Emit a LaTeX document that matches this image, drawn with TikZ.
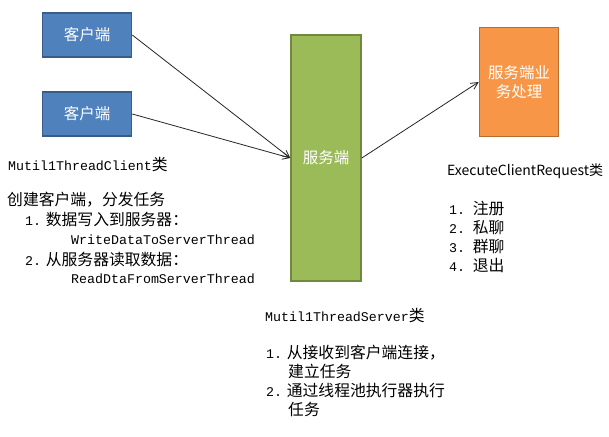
\documentclass[tikz,border=0pt]{standalone}
\usepackage{fontspec}
\setmainfont{Noto Sans CJK SC}
\newfontfamily\dengkuan{Liberation Mono}
\usepackage{xcolor}
\usetikzlibrary{arrows.meta}
\definecolor{klan}{HTML}{4F81BD}
\definecolor{klanbian}{HTML}{385D8A}
\definecolor{klv}{HTML}{9BBB59}
\definecolor{klvbian}{HTML}{71893F}
\definecolor{kcheng}{HTML}{F79646}
\definecolor{kchengbian}{HTML}{B66D31}
\newcommand{\dk}[1]{{\fontsize{13.3}{16}\dengkuan #1}}
\tikzset{
  kuang/.style={rectangle, line width=1.6pt, text=white, align=center,
    font=\fontsize{15.5}{19}\selectfont},
  kehu/.style={kuang, draw=klanbian, fill=klan, minimum width=89, minimum height=44},
  fuwu/.style={kuang, draw=klvbian, fill=klv, minimum width=70, minimum height=246},
  chuli/.style={kuang, draw=kchengbian, fill=kcheng, minimum width=79, minimum height=109},
  shuoming/.style={anchor=west, inner sep=0pt, font=\fontsize{15.8}{19}\selectfont},
  jiantou/.style={-{Straight Barb[length=7pt,width=7pt]}, line width=0.8pt, draw=black!85},
}

\begin{document}
\begin{tikzpicture}[x=1pt,y=-1pt]
  \useasboundingbox[fill=white] (0,0) rectangle (609,436);

  \node[kehu] (kehu1) at (87,35) {客户端};
  \node[kehu] (kehu2) at (87,114) {客户端};
  \node[fuwu] (fuwu) at (326,158) {服务端};
  \node[chuli] (chuli) at (519,82) {服务端业\\务处理};

  \draw[jiantou] (kehu1.east) -- (fuwu.west);
  \draw[jiantou] (kehu2.east) -- (fuwu.west);
  \draw[jiantou] (fuwu.east) -- (chuli.west);

  % client side notes
  \node[shuoming] (ktitle) at (8,165) {\dk{Mutil1ThreadClient}类};
  \node[shuoming] (kdesc) at (7,200) {创建客户端，分发任务};
  \node[shuoming] (kone) at (25,220) {\dk{1.} 数据写入到服务器：};
  \node[shuoming] (kwrite) at (71,240) {\dk{WriteDataToServerThread}};
  \node[shuoming] (ktwo) at (25,260) {\dk{2.} 从服务器读取数据：};
  \node[shuoming] (kread) at (71,279) {\dk{ReadDtaFromServerThread}};

  % server side notes
  \node[shuoming] (ftitle) at (265,315) {\dk{Mutil1ThreadServer}类};
  \node[shuoming] (fone) at (266,353) {\dk{1.} 从接收到客户端连接，};
  \node[shuoming] (fonea) at (288,371) {建立任务};
  \node[shuoming] (ftwo) at (266,390) {\dk{2.} 通过线程池执行器执行};
  \node[shuoming] (ftwoa) at (288,409) {任务};

  % request handler notes
  \node[shuoming, font=\fontsize{14}{17}\selectfont] (ctitle) at (447,171) {ExecuteClientRequest类};
  \node[shuoming] (cone) at (449,209) {\dk{1.}\hspace{3pt} 注册};
  \node[shuoming] (ctwo) at (449,228) {\dk{2.}\hspace{3pt} 私聊};
  \node[shuoming] (cthree) at (449,247) {\dk{3.}\hspace{3pt} 群聊};
  \node[shuoming] (cfour) at (449,265) {\dk{4.}\hspace{3pt} 退出};
\end{tikzpicture}
\end{document}
